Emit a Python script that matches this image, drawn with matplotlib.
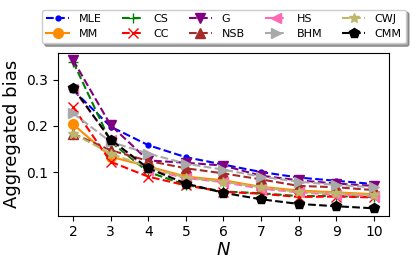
import matplotlib
matplotlib.use('Agg')
import matplotlib.pyplot as plt

N = [2, 3, 4, 5, 6, 7, 8, 9, 10]

mle = [0.277, 0.198, 0.158, 0.132, 0.116, 0.100, 0.088, 0.081, 0.074]
mm = [0.203, 0.133, 0.112, 0.090, 0.082, 0.068, 0.060, 0.056, 0.052]
cs = [0.338, 0.165, 0.100, 0.072, 0.058, 0.054, 0.048, 0.048, 0.046]
cc = [0.240, 0.122, 0.090, 0.071, 0.057, 0.053, 0.046, 0.047, 0.045]
g = [0.342, 0.201, 0.125, 0.120, 0.114, 0.092, 0.082, 0.075, 0.070]
nsb = [0.183, 0.147, 0.124, 0.108, 0.097, 0.084, 0.070, 0.067, 0.061]
hs = [0.280, 0.170, 0.105, 0.087, 0.078, 0.064, 0.056, 0.051, 0.048]
bhm = [0.227, 0.165, 0.140, 0.118, 0.105, 0.090, 0.079, 0.072, 0.067]
cwj = [0.183, 0.140, 0.110, 0.088, 0.079, 0.067, 0.057, 0.054, 0.050]
cmm = [0.282, 0.170, 0.108, 0.075, 0.055, 0.041, 0.031, 0.026, 0.0215]

# (label, values, color, marker, linestyle)
series = [
    ('MLE', mle, 'blue', '.', '--'),
    ('MM', mm, 'darkorange', 'o', '-'),
    ('CS', cs, 'green', '+', '--'),
    ('CC', cc, 'red', 'x', '--'),
    ('G', g, 'purple', 'v', '--'),
    ('NSB', nsb, 'brown', '^', '--'),
    ('HS', hs, 'hotpink', '<', '--'),
    ('BHM', bhm, 'darkgray', '>', '--'),
    ('CWJ', cwj, 'darkkhaki', '*', '--'),
    ('CMM', cmm, 'black', 'p', '--'),
]

fig = plt.figure(figsize=(4.15, 2.66), dpi=100)
ax = fig.add_axes([0.14, 0.189, 0.797, 0.613])

for label, vals, color, marker, ls in series:
    ax.plot(N, vals, linestyle=ls, marker=marker, color=color, label=label,
            linewidth=1.5, markersize=7)

ax.set_xticks(N)
ax.set_yticks([0.1, 0.2, 0.3])
ax.tick_params(labelsize=10)
ax.set_xlabel('$N$', fontsize=13, labelpad=1)
ax.set_ylabel('Aggregated bias', fontsize=13)

# legend above the axes, 5 columns
fig.legend(loc='upper center', bbox_to_anchor=(0.54, 0.985), ncol=5,
           fontsize=8, shadow=True, fancybox=True,
           handlelength=2.0, handletextpad=0.9, columnspacing=1.8,
           borderpad=0.4, labelspacing=0.45)

fig.savefig('out.png', dpi=100)
